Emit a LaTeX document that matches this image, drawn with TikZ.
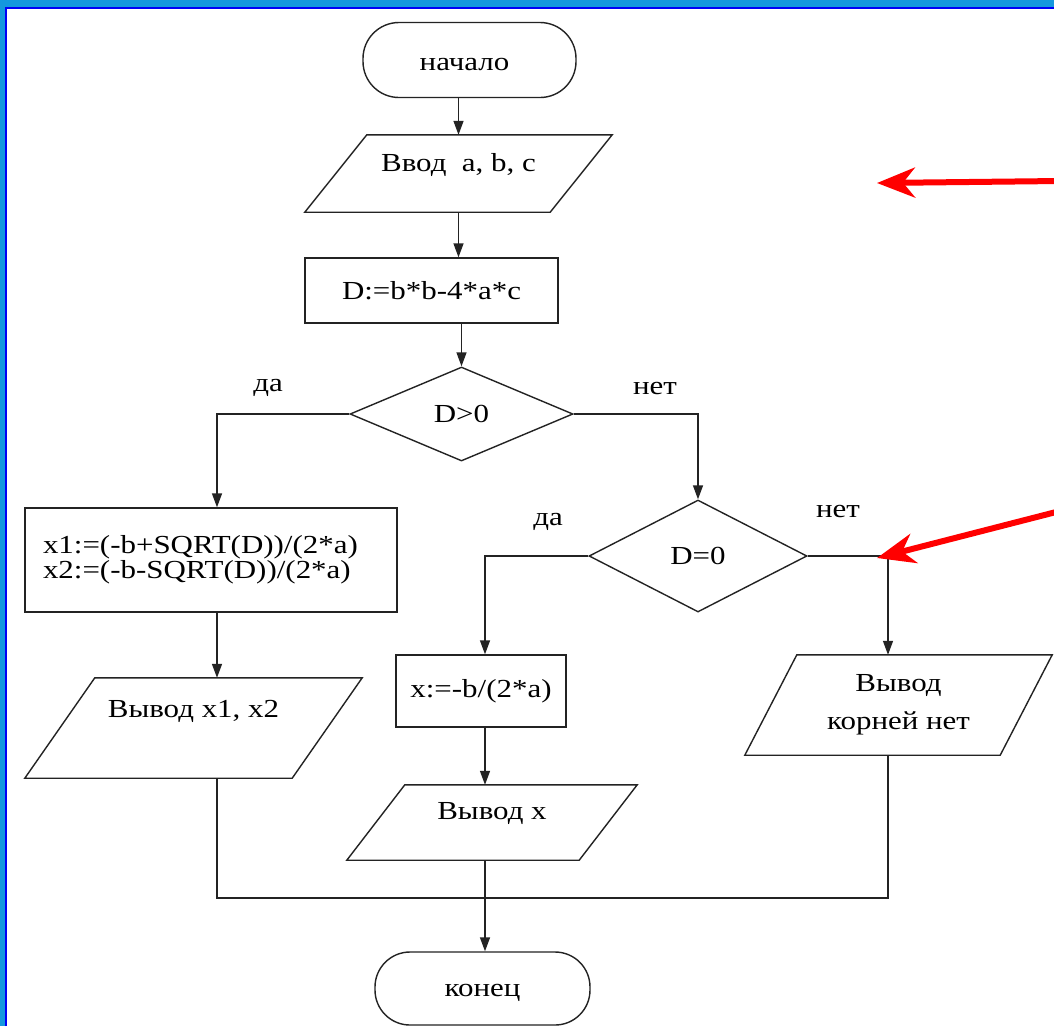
\documentclass[tikz,border=0pt]{standalone}
\usepackage{fontspec}
\setmainfont{Liberation Serif}[FakeStretch=1.19]
\usetikzlibrary{shapes.geometric,arrows.meta,calc}
\definecolor{frameLB}{RGB}{20,152,222}
\definecolor{frameB}{RGB}{0,0,245}
\definecolor{lineC}{RGB}{35,35,35}
\newcommand\paraDraw[2]{%
  \draw[conn] ([xshift=#2]#1.north west) -- ([xshift=#2]#1.north east)
    -- ([xshift=-#2]#1.south east) -- ([xshift=-#2]#1.south west) -- cycle;}
\begin{document}
\begin{tikzpicture}[x=1pt,y=1pt,
  font=\fontsize{26}{23}\selectfont,
  conn/.style={draw=lineC, line width=1.4pt},
  arr/.style={conn, -{Triangle[length=14pt,width=10pt]}},
  box/.style={draw=lineC, line width=1.4pt, rectangle, inner sep=0pt},
  term/.style={box, rounded corners=#1},
  dia/.style={draw=lineC, line width=1.4pt, diamond, inner sep=0pt},
  io/.style={rectangle, inner sep=0pt},
  lbl/.style={inner sep=0pt},
  redarr/.style={draw=red, line width=6pt, -{Stealth[length=38pt,width=30pt,inset=12pt]}}]
\useasboundingbox (0,0) rectangle (1054,-1026);
% window frame
\fill[frameLB] (0,0) rectangle (1054,-1026);
\fill[white] (7,-9) rectangle (1054,-1026);
\draw[frameB, line width=2pt] (6,-1026) -- (6,-8) -- (1054,-8);

% nodes
\node[term=36pt, minimum width=213pt, minimum height=75pt] (st) at (469.5,-60) {};
\node[lbl] (stT) at ([xshift=-5pt,yshift=-4pt]st.center) {начало};

\node[io, minimum width=245pt, minimum height=77pt] (in) at (458.5,-173.5) {};
\paraDraw{in}{31pt}
\node[lbl] (inT) at ([yshift=9pt]in.center) {Ввод~ a, b, c};

\node[box, minimum width=253pt, minimum height=65pt] (cd) at (431.5,-290.5) {D:=b*b-4*a*c};

\node[dia, minimum width=223pt, minimum height=94pt] (d1) at (461.5,-414) {D>0};
\node[lbl] (l1) at (268,-388) {да};
\node[lbl] (l2) at (655,-388) {нет};

\node[box, minimum height=104pt, inner xsep=18pt, text width=336pt, align=left] (x1) at (211,-560)
  {x1:=(-b+SQRT(D))/(2*a)\\x2:=(-b-SQRT(D))/(2*a)};

\node[io, minimum width=267pt, minimum height=100pt] (o1) at (193.5,-728) {};
\paraDraw{o1}{35pt}
\node[lbl] (o1T) at ([yshift=17pt]o1.center) {Вывод x1, x2};

\node[dia, minimum width=218pt, minimum height=112pt] (d2) at (698,-556) {D=0};
\node[lbl] (l3) at (548,-522) {да};
\node[lbl] (l4) at (838,-511) {нет};

\node[box, minimum width=170pt, minimum height=72pt] (xb) at (481,-691) {x:=-b/(2*a)};

\node[io, minimum width=232pt, minimum height=75pt] (ox) at (492,-822.5) {};
\paraDraw{ox}{29pt}
\node[lbl] (oxT) at ([yshift=9pt]ox.center) {Вывод x};

\node[io, minimum width=255pt, minimum height=100pt] (o2) at (898.5,-705) {};
\paraDraw{o2}{26pt}
\node[lbl, align=center] (o2T) at (o2.center) {Вывод\\[15pt]корней нет};

\node[term=35pt, minimum width=215pt, minimum height=73pt] (en) at (482.5,-988.5) {};
\node[lbl] (enT) at ([yshift=-4pt]en.center) {конец};

% connectors
\coordinate (colL) at (217,-414);
\coordinate (colM) at (485,-556);
\coordinate (colR) at (888,-556);
\coordinate (jL) at (217,-898);
\coordinate (jR) at (888,-898);

\draw[arr] (st.south -| in.north) -- (in.north);
\draw[arr] (in.south) -- (in.south |- cd.north);
\draw[arr] (cd.south -| d1.north) -- (d1.north);
\draw[arr] (d1.west) -- (colL) -- (colL |- x1.north);
\draw[arr] (colL |- x1.south) -- (colL |- o1.north);
\draw[arr] (d1.east) -| (d2.north);
\draw[arr] (d2.west) -- (colM) -- (colM |- xb.north);
\draw[arr] (colM |- xb.south) -- (colM |- ox.north);
\draw[arr] (d2.east) -- (colR) -- (colR |- o2.north);
\draw[conn] (colL |- o1.south) -- (jL) -- (jR) -- (colR |- o2.south);
\draw[arr] (colM |- ox.south) -- (colM |- en.north);

% red pointers
\coordinate (r1a) at (1060,-181);
\coordinate (r1b) at (877,-183);
\coordinate (r2a) at (1060,-511);
\coordinate (r2b) at (877,-558);
\draw[redarr] (r1a) -- (r1b);
\draw[redarr] (r2a) -- (r2b);
\end{tikzpicture}
\end{document}
